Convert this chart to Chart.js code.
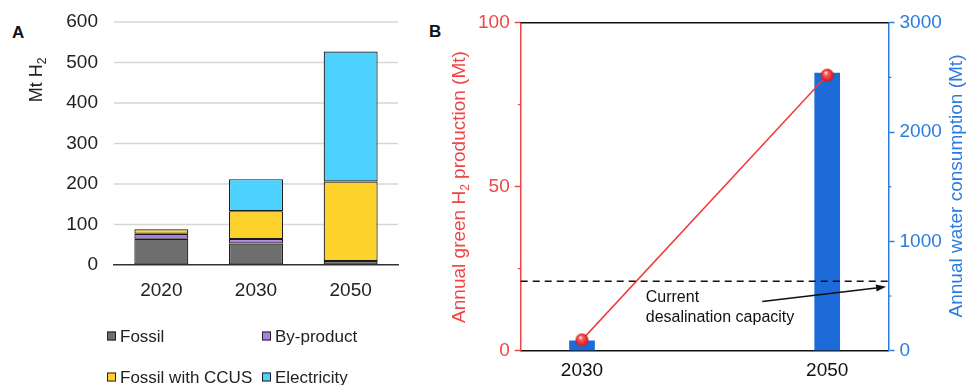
<!DOCTYPE html>
<html>
<head>
<meta charset="utf-8">
<script src="https://cdn.jsdelivr.net/npm/chart.js@4"></script>
<style>
  html, body { margin: 0; padding: 0; background: #fff; }
  body { width: 967px; height: 385px; position: relative; overflow: hidden;
         font-family: "Liberation Sans", Arial, sans-serif; }
  .panel { position: absolute; top: 0; }
  .tag { position: absolute; font-weight: bold; font-size: 17px; line-height: 17px; color: #111; }
</style>
</head>
<body>
<div class="tag" style="left:12px;top:24px">A</div>
<div class="tag" style="left:429px;top:23px">B</div>
<div class="panel" style="left:0;width:420px;height:385px"><canvas id="chartA" width="420" height="385"></canvas></div>
<div class="panel" style="left:420px;width:547px;height:385px"><canvas id="chartB" width="547" height="385"></canvas></div>

<script>
// ---------- Panel A: hydrogen supply by route (Mt H2) ----------
const supplyYears = ['2020', '2030', '2050'];
const fossil      = [65, 53, 10];
const byProduct   = [12, 11, 0];
const fossilCcus  = [11, 69, 196];
const electricity = [0, 79, 321];
const routeNames  = ['Fossil', 'By-product', 'Fossil with CCUS', 'Electricity'];
const routeColors = ['#6e6e6e', '#b07ee8', '#fdd22b', '#4dd2ff'];
const supplyMax   = 600;
const supplyStep  = 100;

// ---------- Panel B: green hydrogen vs. water demand ----------
const outlookYears   = [2030, 2050];
const greenH2        = [3.3, 84];     // Mt H2 per year
const waterUse       = [90, 2540];    // Mt water per year
const desalCapacity  = 635;           // Mt water per year, current desalination
const h2Major        = [0, 50, 100];
const h2Minor        = [25, 75];
const waterMajor     = [0, 1000, 2000, 3000];
const waterMinor     = [500, 1500, 2500];

const FONT = '"Liberation Sans", Arial, sans-serif';
const RED = '#ee4646';
const BLUE = '#2c7be0';

// Draw rotated text made of runs; runs flagged `sub` are set smaller and lowered.
function drawRotatedRuns(ctx, runs, cx, cy, size, color) {
  ctx.save();
  ctx.translate(cx, cy);
  ctx.rotate(-Math.PI / 2);
  ctx.fillStyle = color;
  ctx.textBaseline = 'middle';
  ctx.textAlign = 'left';
  const fontFor = r => (r.sub ? Math.round(size * 0.65) : size) + 'px ' + FONT;
  let total = 0;
  runs.forEach(r => { ctx.font = fontFor(r); total += ctx.measureText(r.text).width; });
  let x = -total / 2;
  runs.forEach(r => {
    ctx.font = fontFor(r);
    ctx.fillText(r.text, x, r.sub ? size * 0.32 : 0);
    x += ctx.measureText(r.text).width;
  });
  ctx.restore();
}

// Horizontal value gridlines, legend in a two-column grid, rotated unit label.
const panelADecor = {
  id: 'panelADecor',
  beforeDatasetsDraw(chart) {
    const { ctx, chartArea: a, scales } = chart;
    ctx.save();
    ctx.strokeStyle = '#d6d6d6';
    ctx.lineWidth = 1.5;
    scales.y.ticks.forEach(t => {
      if (t.value === 0) return;
      const y = scales.y.getPixelForValue(t.value);
      ctx.beginPath(); ctx.moveTo(a.left, y); ctx.lineTo(a.right, y); ctx.stroke();
    });
    ctx.restore();
  },
  afterDraw(chart) {
    const ctx = chart.ctx;
    ctx.save();
    ctx.font = '17px ' + FONT;
    ctx.textBaseline = 'middle';
    ctx.textAlign = 'left';
    const colX = [107, 262];
    const rowY = [336, 377];
    chart.data.datasets.forEach((ds, i) => {
      const bx = colX[i % 2];
      const cy = rowY[Math.floor(i / 2)];
      ctx.fillStyle = ds.backgroundColor;
      ctx.fillRect(bx, cy - 4.5, 9, 9);
      ctx.strokeStyle = '#222';
      ctx.lineWidth = 1;
      ctx.strokeRect(bx + 0.5, cy - 4, 8, 8);
      ctx.fillStyle = '#222';
      ctx.fillText(ds.label, bx + 13, cy + 1);
    });
    ctx.restore();
    drawRotatedRuns(ctx, [{ text: 'Mt H' }, { text: '2', sub: true }], 37, 80, 18, '#222');
  }
};

const supplySeries = [fossil, byProduct, fossilCcus, electricity];

new Chart(document.getElementById('chartA'), {
  type: 'bar',
  data: {
    labels: supplyYears,
    datasets: supplySeries.map((values, i) => ({
      label: routeNames[i],
      data: values,
      backgroundColor: routeColors[i],
      borderColor: '#1a1a1a',
      borderWidth: 1.2,
      borderSkipped: false,
      categoryPercentage: 1,
      barPercentage: 0.57
    }))
  },
  options: {
    responsive: false,
    devicePixelRatio: 1,
    animation: false,
    layout: { padding: { left: 0, right: 22, top: 22, bottom: 0 } },
    plugins: { legend: { display: false }, tooltip: { enabled: false } },
    scales: {
      x: {
        stacked: true,
        grid: { display: false },
        border: { display: true, color: '#333', width: 1.5 },
        ticks: { font: { size: 19, family: FONT }, color: '#222', padding: 6 },
        afterFit: s => { s.height = 120; }
      },
      y: {
        stacked: true,
        min: 0,
        max: supplyMax,
        ticks: { stepSize: supplyStep, font: { size: 19, family: FONT }, color: '#222', padding: 5 },
        // invisible tick marks keep the labels clear of the plot
        grid: { display: true, drawOnChartArea: false, drawTicks: true, tickLength: 11, tickColor: 'rgba(0,0,0,0)' },
        border: { display: false },
        afterFit: s => { s.width = 114; }
      }
    }
  },
  plugins: [panelADecor]
});

// ---------- Panel B ----------
// Glossy red marker used for the production points.
function makeSphere(r) {
  const d = r * 2 + 2;
  const c = document.createElement('canvas');
  c.width = d; c.height = d;
  const g = c.getContext('2d');
  const m = d / 2;
  const grad = g.createRadialGradient(m - r * 0.25, m - r * 0.4, r * 0.08, m, m, r);
  grad.addColorStop(0, '#fff0f0');
  grad.addColorStop(0.28, '#ff5a5a');
  grad.addColorStop(0.75, '#ea2a2a');
  grad.addColorStop(1, '#c41c1c');
  g.fillStyle = grad;
  g.beginPath();
  g.arc(m, m, r, 0, Math.PI * 2);
  g.fill();
  return c;
}

const panelBDecor = {
  id: 'panelBDecor',
  beforeDatasetsDraw(chart) {
    const { ctx, chartArea: a, scales } = chart;
    ctx.save();
    // frame line along the top of the plot
    ctx.strokeStyle = '#111';
    ctx.lineWidth = 1.5;
    ctx.beginPath();
    ctx.moveTo(a.left, a.top);
    ctx.lineTo(a.right, a.top);
    ctx.stroke();
    // minor ticks on both value axes
    ctx.lineWidth = 1.2;
    ctx.strokeStyle = RED;
    h2Minor.forEach(v => {
      const y = scales.y.getPixelForValue(v);
      ctx.beginPath(); ctx.moveTo(a.left - 3, y); ctx.lineTo(a.left, y); ctx.stroke();
    });
    ctx.strokeStyle = BLUE;
    waterMinor.forEach(v => {
      const y = scales.y2.getPixelForValue(v);
      ctx.beginPath(); ctx.moveTo(a.right, y); ctx.lineTo(a.right + 3, y); ctx.stroke();
    });
    ctx.restore();
  },
  afterDraw(chart) {
    const { ctx, chartArea: a, scales } = chart;
    const xs = scales.x, yw = scales.y2;
    ctx.save();
    // current desalination capacity
    const yd = yw.getPixelForValue(desalCapacity);
    ctx.strokeStyle = '#111';
    ctx.lineWidth = 1.5;
    ctx.setLineDash([7, 5]);
    ctx.beginPath();
    ctx.moveTo(a.left, yd);
    ctx.lineTo(a.right, yd);
    ctx.stroke();
    ctx.setLineDash([]);
    // label and pointer
    ctx.fillStyle = '#111';
    ctx.font = '16px ' + FONT;
    ctx.textAlign = 'left';
    ctx.textBaseline = 'middle';
    const tx = xs.getPixelForValue(2035.2);
    ctx.fillText('Current', tx, yw.getPixelForValue(482));
    ctx.fillText('desalination capacity', tx, yw.getPixelForValue(300));
    const x0 = xs.getPixelForValue(2044.7), y0 = yw.getPixelForValue(450);
    const x1 = xs.getPixelForValue(2054.8), y1 = yw.getPixelForValue(585);
    const ang = Math.atan2(y1 - y0, x1 - x0);
    const head = 10, half = 3.5;
    const bx = x1 - head * Math.cos(ang), by = y1 - head * Math.sin(ang);
    ctx.beginPath();
    ctx.moveTo(x0, y0);
    ctx.lineTo(bx, by);
    ctx.stroke();
    ctx.beginPath();
    ctx.moveTo(x1, y1);
    ctx.lineTo(bx + half * Math.sin(ang), by - half * Math.cos(ang));
    ctx.lineTo(bx - half * Math.sin(ang), by + half * Math.cos(ang));
    ctx.closePath();
    ctx.fill();
    ctx.restore();
    // axis titles
    drawRotatedRuns(ctx, [{ text: 'Annual green H' }, { text: '2', sub: true }, { text: ' production (Mt)' }],
      40, 187, 19, RED);
    drawRotatedRuns(ctx, [{ text: 'Annual water consumption (Mt)' }], 537, 186, 19, BLUE);
  }
};

const tickFont = { size: 19, family: FONT };

new Chart(document.getElementById('chartB'), {
  type: 'bar',
  data: {
    datasets: [
      {
        type: 'line',
        label: 'Annual green H₂ production',
        data: outlookYears.map((x, i) => ({ x, y: greenH2[i] })),
        yAxisID: 'y',
        borderColor: '#f03c3c',
        borderWidth: 1.5,
        pointStyle: makeSphere(6.5),
        pointRadius: 6.5,
        order: 0
      },
      {
        type: 'bar',
        label: 'Annual water consumption',
        data: outlookYears.map((x, i) => ({ x, y: waterUse[i] })),
        yAxisID: 'y2',
        backgroundColor: '#1c6bd9',
        barThickness: 25,
        order: 1
      }
    ]
  },
  options: {
    responsive: false,
    devicePixelRatio: 1,
    animation: false,
    layout: { padding: { left: 0, right: 0, top: 22.7, bottom: 0 } },
    plugins: { legend: { display: false }, tooltip: { enabled: false } },
    scales: {
      x: {
        type: 'linear',
        min: 2025,
        max: 2055,
        offset: false,
        grid: { display: false },
        border: { display: true, color: '#111', width: 1.5 },
        ticks: { font: tickFont, color: '#111', padding: 1, callback: v => String(v) },
        afterBuildTicks: s => { s.ticks = outlookYears.map(v => ({ value: v })); },
        afterFit: s => { s.height = 34.3; }
      },
      y: {
        position: 'left',
        min: 0,
        max: 100,
        border: { display: true, color: RED, width: 1.5 },
        grid: { drawOnChartArea: false, drawTicks: true, tickLength: 6, tickColor: RED, tickWidth: 1.5 },
        ticks: { font: tickFont, color: RED, padding: 5, callback: v => String(v) },
        afterBuildTicks: s => { s.ticks = h2Major.map(v => ({ value: v })); },
        afterFit: s => { s.width = 100.7; }
      },
      y2: {
        position: 'right',
        min: 0,
        max: 3000,
        border: { display: true, color: BLUE, width: 1.5 },
        grid: { drawOnChartArea: false, drawTicks: true, tickLength: 6, tickColor: BLUE, tickWidth: 1.5 },
        ticks: { font: tickFont, color: BLUE, padding: 5, callback: v => String(v) },
        afterBuildTicks: s => { s.ticks = waterMajor.map(v => ({ value: v })); },
        afterFit: s => { s.width = 78.5; }
      }
    }
  },
  plugins: [panelBDecor]
});
</script>
</body>
</html>
